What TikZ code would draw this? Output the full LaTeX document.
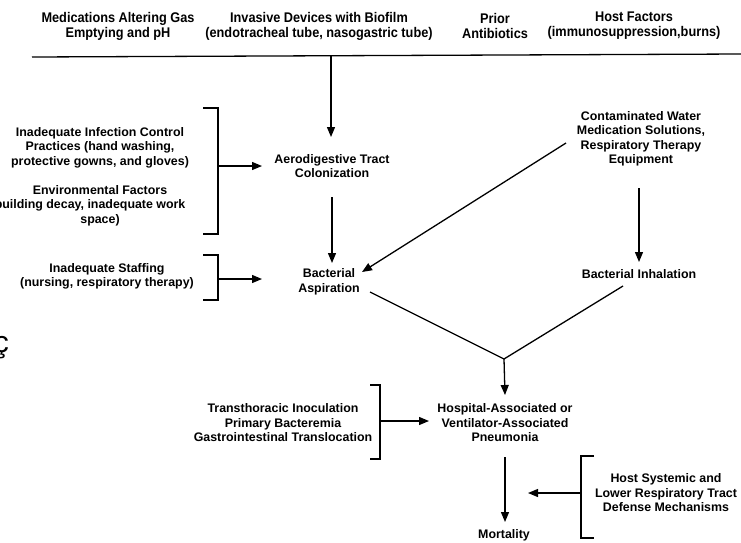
\documentclass[tikz,border=0pt]{standalone}
\usepackage{fontspec}
\setmainfont{Liberation Sans}
\newfontfamily\headfont[FakeStretch=0.91]{Liberation Sans}
\usetikzlibrary{arrows.meta}
\begin{document}
\begin{tikzpicture}[x=1pt,y=-1pt,
  lbl/.style={font=\bfseries\fontsize{12.4}{14.5}\selectfont, align=center, inner sep=0pt},
  head/.style={font=\headfont\bfseries\fontsize{14}{15}\selectfont, align=center, inner sep=0pt},
  conn/.style={line width=1.3pt, line join=miter},
  arr/.style={conn, -{Triangle[length=10pt,width=8pt]}},
  bracket/.style={conn},
]
\clip (0,0) rectangle (741,542);
\useasboundingbox (0,0) rectangle (741,542);

% ---- header row of risk factors ----
\node[head] (med)  at (118,26) {Medications Altering Gas\\Emptying and pH};
\node[head] (inv)  at (319,26) {Invasive Devices with Biofilm\\(endotracheal tube, nasogastric tube)};
\node[head] (abx)  at (495,26) {Prior\\Antibiotics};
\node[head] (host) at (634,26) {Host Factors\\(immunosuppression,burns)};
\coordinate (barL) at (32,57);
\coordinate (barR) at (741,54);
\coordinate (barmid) at (331,55.8);
\draw[conn] (barL) -- (barR);

% ---- central chain ----
\node[lbl] (aero) at (332,166) {Aerodigestive Tract\\Colonization};
\node[lbl] (asp)  at (329,282) {Bacterial\\Aspiration};
\node[lbl] (pneu) at (505,423) {Hospital-Associated or\\Ventilator-Associated\\Pneumonia};
\node[lbl] (mort) at (504,535) {Mortality};

% ---- right branch ----
\node[lbl] (water) at (641,139) {Contaminated Water\\Medication Solutions,\\Respiratory Therapy\\Equipment};
\node[lbl] (inh)   at (639,274) {Bacterial Inhalation};

% ---- bracketed contributing factors ----
\node[lbl] (infect) at (100,176.5) {Inadequate Infection Control\\Practices (hand washing,\\protective gowns, and gloves)\\[14.5pt]Environmental Factors\\\hspace*{-24pt}(building decay, inadequate work\\space)};
\node[lbl] (staff)  at (107,276.5) {Inadequate Staffing\\(nursing, respiratory therapy)};
\node[lbl] (trans)  at (283,423) {Transthoracic Inoculation\\Primary Bacteremia\\Gastrointestinal Translocation};
\node[lbl] (def)    at (666,493) {Host Systemic and\\Lower Respiratory Tract\\Defense Mechanisms};

% stray mark on the left margin
\node[font=\fontsize{30}{30}\selectfont, anchor=base east, inner sep=0pt] (mark) at (9,352) {ç};

% ---- connector end points ----
\coordinate (aeroN)  at (331,137);
\coordinate (aeroS)  at (332,197);
\coordinate (aspN)   at (332,263);
\coordinate (aspNE)  at (362,272);
\coordinate (aspSE)  at (370,292);
\coordinate (waterSW) at (566,143);
\coordinate (waterS) at (639,188);
\coordinate (inhN)   at (639,262);
\coordinate (inhSW)  at (623,286);
\coordinate (merge)  at (504,359);
\coordinate (pneuN)  at (505,395);
\coordinate (pneuS)  at (505,457);
\coordinate (mortN)  at (505,522);

% brackets and their arrows
\coordinate (b1t) at (203,108); \coordinate (b1b) at (203,234);
\coordinate (b1o) at (218,166); \coordinate (aeroW) at (262,166);
\coordinate (b2t) at (203,255); \coordinate (b2b) at (203,300);
\coordinate (b2o) at (218,279); \coordinate (aspW) at (262,279);
\coordinate (b3t) at (370,385); \coordinate (b3b) at (370,459);
\coordinate (b3o) at (380,421); \coordinate (pneuW) at (429,421);
\coordinate (b4t) at (594,456); \coordinate (b4b) at (594,538);
\coordinate (b4o) at (581,493); \coordinate (mortE) at (528,493);

\draw[bracket] (b1t) -| (b1o) |- (b1b);
\draw[bracket] (b2t) -| (b2o) |- (b2b);
\draw[bracket] (b3t) -| (b3o) |- (b3b);
\draw[bracket] (b4t) -| (b4o) |- (b4b);

\draw[arr] (b1o) -- (aeroW);
\draw[arr] (b2o) -- (aspW);
\draw[arr] (b3o) -- (pneuW);
\draw[arr] (b4o) -- (mortE);

% main flow
\draw[arr] (barmid) -- (aeroN);
\draw[arr] (aeroS) -- (aspN);
\draw[arr] (waterSW) -- (aspNE);
\draw[arr] (waterS) -- (inhN);
\draw[conn] (aspSE) -- (merge) -- (inhSW);
\draw[arr] (merge) -- (pneuN);
\draw[arr] (pneuS) -- (mortN);
\end{tikzpicture}
\end{document}
